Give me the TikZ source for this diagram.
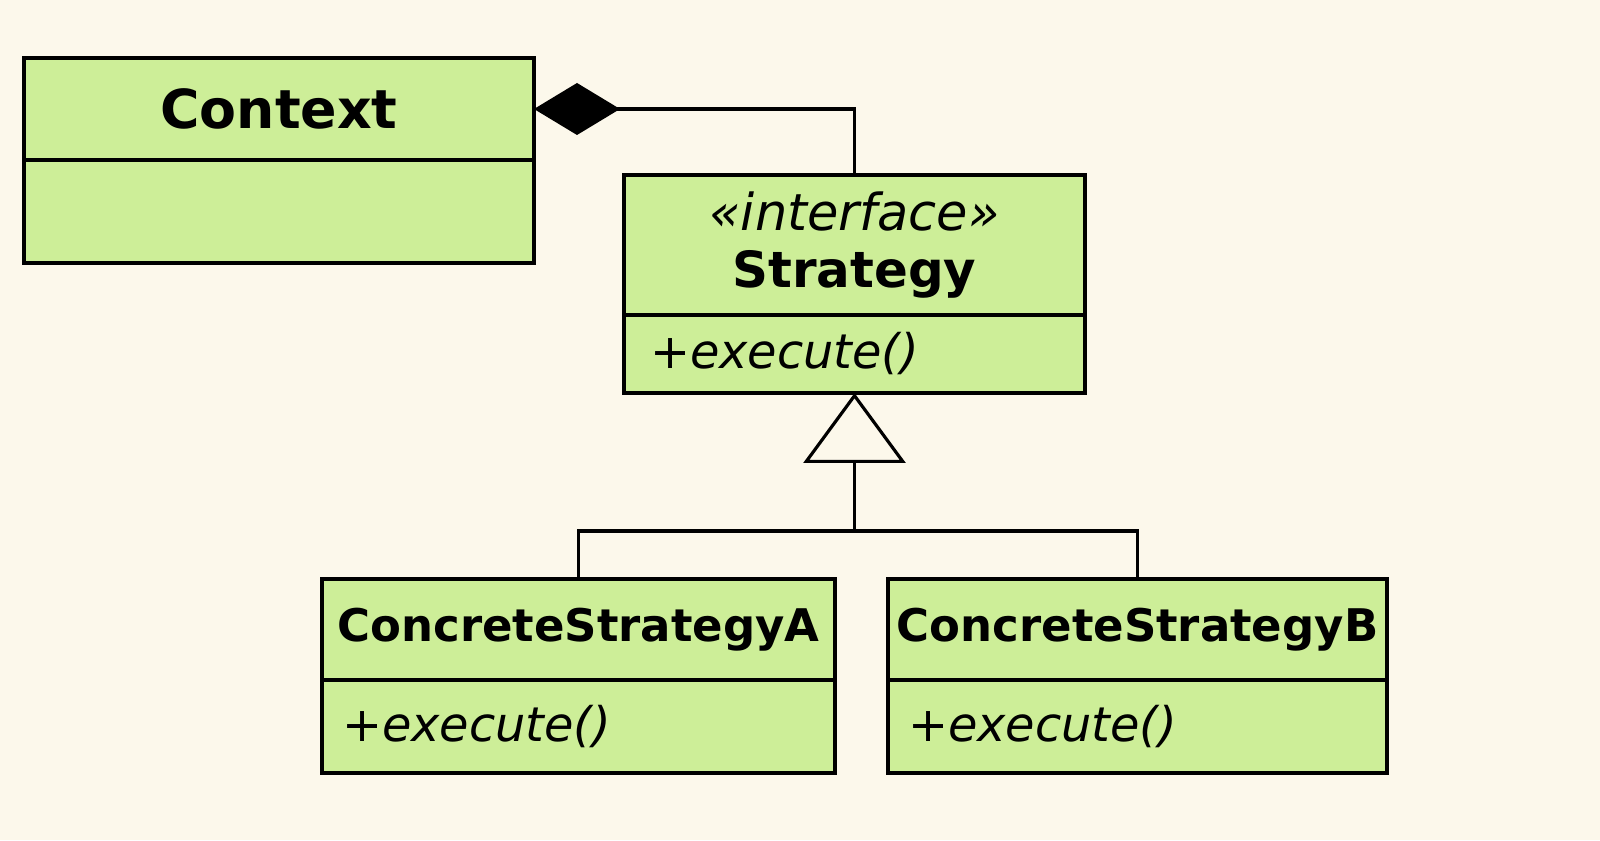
\documentclass[tikz,border=0pt]{standalone}
\usepackage{fontspec}
\setmainfont{DejaVu Sans}
\usepackage{xcolor}
\usepackage{tikz}
\usetikzlibrary{arrows.meta,positioning}

\definecolor{paper}{HTML}{FCF8EB}
\definecolor{boxgreen}{HTML}{CDEE98}

\tikzset{
  compartment/.style={rectangle,draw=black,line width=1.2pt,fill=boxgreen,
    inner sep=0pt,outer sep=0pt,anchor=north west},
  opsbox/.style={compartment,align=left,inner xsep=#1,
    font=\fontsize{13.6}{16}\selectfont\itshape},
  link/.style={black,line width=0.9pt},
}

\begin{document}
\begin{tikzpicture}
\fill[paper] (0,0) rectangle (16,8.4);
\useasboundingbox (0,0) rectangle (16,8.4);

% Context class
\node[compartment,minimum width=5.10cm,minimum height=1.02cm,
  font=\fontsize{15.3}{18}\selectfont\bfseries] (context) at (0.24,7.82) {Context};
\node[compartment,minimum width=5.10cm,minimum height=1.03cm,below=0pt of context] (contextbody) {};

% Strategy interface
\node[compartment,minimum width=4.61cm,minimum height=1.40cm,align=center,
  font=\fontsize{14.5}{16}\selectfont] (strategy) at (6.24,6.65)
  {{\itshape «interface»}\\{\fontsize{14.2}{16}\selectfont\bfseries Strategy}};
\node[opsbox=0.26cm,text width=4.09cm,minimum height=0.78cm,below=0pt of strategy] (strategyops) {+execute()};

% Concrete strategies
\node[compartment,minimum width=5.13cm,minimum height=1.01cm,
  font=\fontsize{12.8}{15}\selectfont\bfseries] (concreteA) at (3.22,2.61) {ConcreteStrategyA};
\node[opsbox=0.2cm,text width=4.73cm,minimum height=0.93cm,below=0pt of concreteA] (concreteAops) {+execute()};

\node[compartment,minimum width=4.99cm,minimum height=1.01cm,
  font=\fontsize{12.8}{15}\selectfont\bfseries] (concreteB) at (8.88,2.61) {ConcreteStrategyB};
\node[opsbox=0.2cm,text width=4.59cm,minimum height=0.93cm,below=0pt of concreteB] (concreteBops) {+execute()};

% Composition
\draw[link,-{Diamond[length=0.86cm,width=0.52cm]}] (strategy.north) |- (context.east);

% Realization
\coordinate[below=1.38cm of strategyops.south] (split);
\draw[link,-{Triangle[open,length=0.70cm,width=1.02cm]}] (split) -- (strategyops.south);
\draw[link] (concreteA.north) |- (split) -| (concreteB.north);
\end{tikzpicture}
\end{document}
